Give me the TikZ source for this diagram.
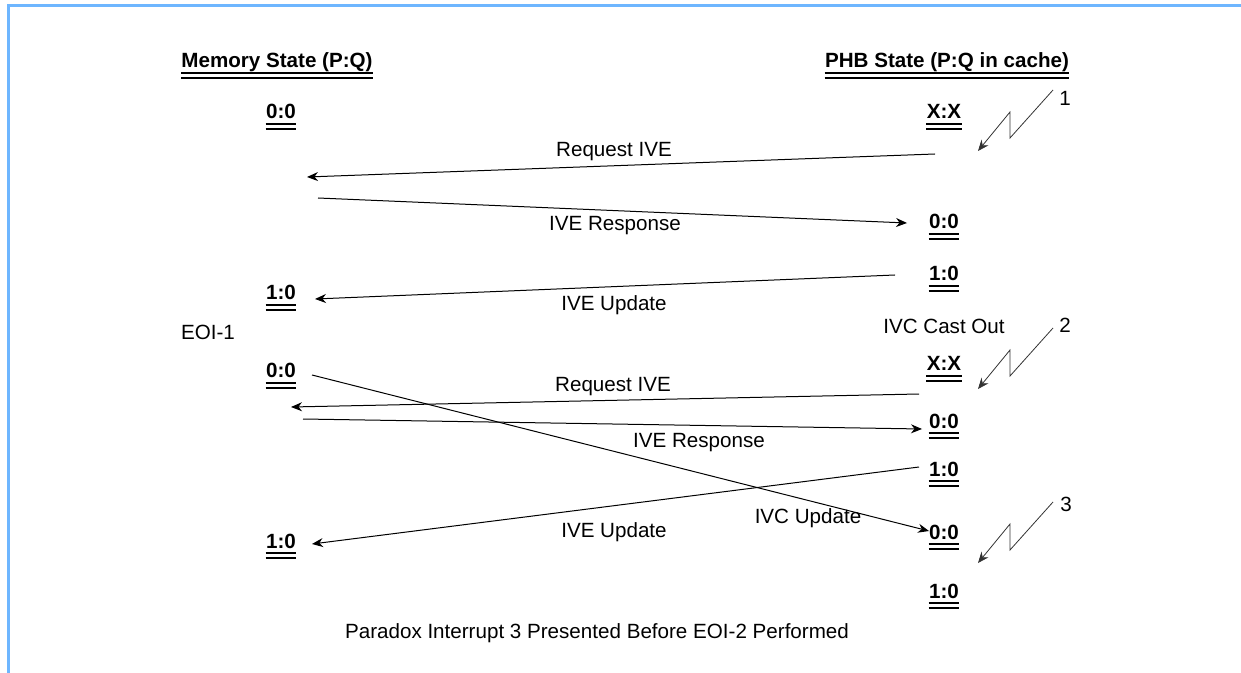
\documentclass[tikz,border=0pt]{standalone}
\usepackage{fontspec}
\setmainfont{Liberation Sans}
\usetikzlibrary{arrows.meta}
\definecolor{frameblue}{RGB}{110,182,255}

\begin{document}
\begin{tikzpicture}[
  x=0.5pt, y=-0.5pt,
  every node/.style={font=\fontsize{10.3}{12}\selectfont, inner sep=0pt, anchor=base},
  uline/.style={draw, line width=0.6pt},
  dul/.style={append after command={
      ([yshift=-2.5pt]\tikzlastnode.base west) edge[uline] ([yshift=-2.5pt]\tikzlastnode.base east)
      ([yshift=-5pt]\tikzlastnode.base west) edge[uline] ([yshift=-5pt]\tikzlastnode.base east)}},
  hdr/.style={dul, font=\fontsize{10.3}{12}\selectfont\bfseries},
  state/.style={dul, font=\fontsize{10.3}{12}\selectfont\bfseries},
  lbl/.style={},
  arrow/.style={-{Stealth[length=5.5pt, width=4.5pt]}, line width=0.5pt},
  bolt/.style={-{Stealth[length=5.5pt, width=4.5pt]}, line width=0.4pt, black!80}
]
\useasboundingbox (0,0) rectangle (1241,673);
\draw[frameblue, line width=1.5pt] (1241,6) -- (8,6) -- (8,673);

% column headers
\node[hdr] (memhdr) at (277,68) {Memory State (P:Q)};
\node[hdr] (phbhdr) at (947,68) {PHB State (P:Q in cache)};

% memory states
\node[state] (m1) at (281,119) {0:0};
\node[state] (m2) at (281,300) {1:0};
\node[state] (m3) at (281,378) {0:0};
\node[state] (m4) at (281,548) {1:0};
\node (eoi) at (208,340) {EOI-1};

% PHB states
\node[state] (p1) at (944,119) {X:X};
\node[state] (p2) at (944,229) {0:0};
\node[state] (p3) at (944,281) {1:0};
\node (castout) at (944,334) {IVC Cast Out};
\node[state] (p4) at (944,371) {X:X};
\node[state] (p5) at (944,428) {0:0};
\node[state] (p6) at (944,476) {1:0};
\node[state] (p7) at (944,539) {0:0};
\node[state] (p8) at (944,598) {1:0};

% connector ends
\coordinate (r1s) at (935,154);  \coordinate (r1e) at (307,177);
\coordinate (s1s) at (318,198);  \coordinate (s1e) at (907,223);
\coordinate (u1s) at (895,275);  \coordinate (u1e) at (315,299);
\coordinate (r2s) at (919,394);  \coordinate (r2e) at (291,407);
\coordinate (s2s) at (303,419);  \coordinate (s2e) at (922,429);
\coordinate (u2s) at (919,467);  \coordinate (u2e) at (312,544);
\coordinate (vus) at (312,375);  \coordinate (vue) at (929,531);

\draw[arrow] (r1s) -- (r1e);
\draw[arrow] (s1s) -- (s1e);
\draw[arrow] (u1s) -- (u1e);
\draw[arrow] (r2s) -- (r2e);
\draw[arrow] (s2s) -- (s2e);
\draw[arrow] (u2s) -- (u2e);
\draw[arrow] (vus) -- (vue);

\node[lbl] (req1) at (614,157) {Request IVE};
\node[lbl] (rsp1) at (615,231) {IVE Response};
\node[lbl] (upd1) at (614,311) {IVE Update};
\node[lbl] (req2) at (613,392) {Request IVE};
\node[lbl] (rsp2) at (699,447) {IVE Response};
\node[lbl] (upd2) at (614,537) {IVE Update};
\node[lbl] (ivcupd) at (808,523) {IVC Update};

% interrupt markers
\foreach \i/\y in {1/90, 2/328, 3/502} {
  \coordinate (int\i s) at (1053,\y);
  \coordinate (int\i e) at (978,\y+61);
  \draw[bolt] (int\i s) -- ++(-43,48) -- ++(0,-26) -- (int\i e);
}
\node (n1) at (1065,106) {1};
\node (n2) at (1065,333) {2};
\node (n3) at (1066,511) {3};

\node (caption) at (597,638) {Paradox Interrupt 3 Presented Before EOI-2 Performed};
\end{tikzpicture}
\end{document}
